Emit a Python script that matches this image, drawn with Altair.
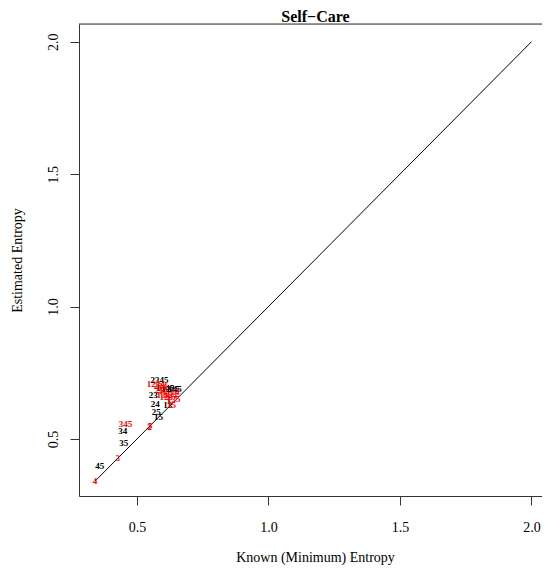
import altair as alt
import pandas as pd

# Point labels (model subsets), known entropy, estimated entropy, colour group
labels = ["4", "45", "3", "35", "34", "345", "2", "5", "15", "25", "24", "2345",
          "1345", "1245", "145", "23", "13",
          "1234", "234", "12", "124", "14", "123", "135", "15", "1", "134", "25"]
known = [0.341, 0.359, 0.427, 0.450, 0.446, 0.457, 0.548, 0.550, 0.582, 0.574, 0.570, 0.586,
         0.608, 0.628, 0.645, 0.562, 0.617,
         0.572, 0.590, 0.600, 0.628, 0.645, 0.612, 0.640, 0.632, 0.620, 0.600, 0.585]
estimated = [0.341, 0.398, 0.428, 0.485, 0.530, 0.557, 0.545, 0.548, 0.583, 0.602, 0.632, 0.723,
             0.693, 0.690, 0.690, 0.668, 0.630,
             0.706, 0.700, 0.683, 0.668, 0.676, 0.657, 0.650, 0.630, 0.645, 0.665, 0.686]
group = ["red", "black", "red", "black", "black", "red", "red", "red", "black", "black", "black", "black",
         "black", "black", "black", "black", "black",
         "red", "red", "red", "red", "red", "red", "red", "red", "red", "red", "red"]

line_x = [0.341, 2.0]
line_y = [0.341, 2.0]
ticks = [0.5, 1.0, 1.5, 2.0]

df = pd.DataFrame({"label": labels, "known": known, "est": estimated, "grp": group})
ldf = pd.DataFrame({"known": line_x, "est": line_y})

FONT = "Liberation Serif"
W, H = 463, 472

xs = alt.Scale(domain=[0.28, 2.04], nice=False, zero=False)
ys = alt.Scale(domain=[0.285, 2.067], nice=False, zero=False)

xaxis = alt.Axis(values=ticks, format=".1f", title="Known (Minimum) Entropy", grid=False,
                 tickSize=9, labelPadding=15, titlePadding=16, labelFontSize=14, titleFontSize=14,
                 titleX=236, titleAnchor="middle",
                 labelFont=FONT, titleFont=FONT, titleFontWeight="normal", domainColor="#333333",
                 tickColor="#333333", labelColor="black", titleColor="black")
yaxis = alt.Axis(values=ticks, format=".1f", title="Estimated Entropy", grid=False,
                 tickSize=9, labelPadding=10, titlePadding=22, labelFontSize=14, titleFontSize=14,
                 labelAngle=-90, labelAlign="center", labelBaseline="bottom",
                 labelFont=FONT, titleFont=FONT, titleFontWeight="normal", domainColor="#333333",
                 tickColor="#333333", labelColor="black", titleColor="black")

line = alt.Chart(ldf).mark_line(color="black", strokeWidth=1).encode(
    x=alt.X("known:Q", scale=xs, axis=xaxis),
    y=alt.Y("est:Q", scale=ys, axis=yaxis),
)

text = alt.Chart(df).mark_text(font=FONT, fontSize=9, fontWeight="bold").encode(
    x=alt.X("known:Q", scale=xs),
    y=alt.Y("est:Q", scale=ys),
    text="label:N",
    color=alt.Color("grp:N", scale=alt.Scale(domain=["black", "red"], range=["black", "#FF0000"]),
                    legend=None),
)

topline = alt.Chart(pd.DataFrame({"a": [0]})).mark_rule(color="#333333", strokeWidth=1).encode(
    x=alt.value(0), x2=alt.value(W), y=alt.value(0)
)

chart = alt.layer(line, text, topline).properties(
    width=W, height=H,
    title=alt.TitleParams("Self−Care", font=FONT, fontSize=16, fontWeight="bold",
                          anchor="middle", offset=3, dx=5, dy=4, color="black"),
    autosize=alt.AutoSizeParams(type="none"),
    padding={"left": 71, "top": 16, "right": 0, "bottom": 69},
).configure_view(stroke=None).configure(background="white")

chart.save("out.html", embed_options={"renderer": "svg", "actions": False})
